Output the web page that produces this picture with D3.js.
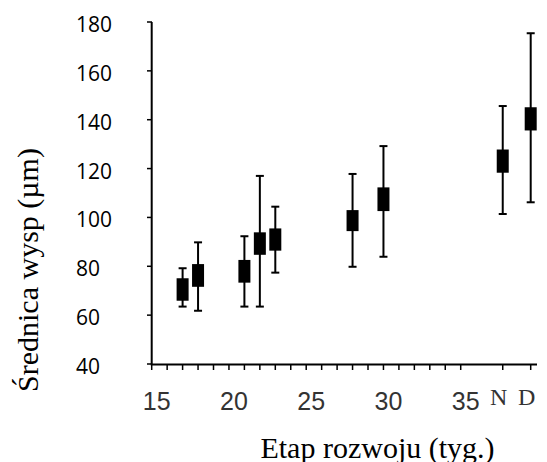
<!DOCTYPE html>
<html><head><meta charset="utf-8">
<script src="https://cdn.jsdelivr.net/npm/d3@7"></script>
<style>body{margin:0;background:#fff}svg{display:block}</style>
</head><body><svg id="c" width="547" height="462"></svg>
<script>
// Data
const categories   = ["17","18","21","22","23","28","30","N","D"];
const catPositions = [17, 18, 21, 22, 23, 28, 30, 37.72, 39.53];
const whiskerHigh  = [79.2, 89.8, 92.3, 117.0, 104.4, 117.8, 129.2, 145.6, 175.4];
const boxHigh      = [75.1, 80.9, 82.6, 93.9, 95.5, 103.0, 112.3, 127.8, 145.1];
const boxLow       = [65.9, 71.6, 73.3, 84.7, 86.4, 94.4, 102.6, 118.3, 135.6];
const whiskerLow   = [63.5, 61.8, 63.5, 63.5, 77.4, 79.8, 83.9, 101.4, 106.2];
const yTicks       = [40, 60, 80, 100, 120, 140, 160, 180];
const xMinorTicks  = d3.range(15, 36).concat([37.72, 39.53]);
const xTickLabels  = ["15","20","25","30","35","N","D"];
const xTickLabelPos= [15, 20, 25, 30, 35, 37.72, 39.53];

const svg = d3.select("#c");
const x = d3.scaleLinear().domain([15, 39.53]).range([151.7, 530.7]);
const y = d3.scaleLinear().domain([40, 180]).range([364, 22]);

// Y axis
svg.append("line").attr("x1", 151.7).attr("x2", 151.7).attr("y1", y(180)).attr("y2", y(40))
  .attr("stroke", "#000").attr("stroke-width", 2);
svg.selectAll(".yt").data(yTicks).enter().append("line")
  .attr("x1", 147).attr("x2", 152).attr("y1", d => y(d)).attr("y2", d => y(d))
  .attr("stroke", "#000").attr("stroke-width", 1.5);
svg.selectAll(".yl").data(yTicks).enter().append("text")
  .attr("x", 76).attr("y", d => y(d) + 2).attr("dominant-baseline", "central")
  .attr("font-family", "'Open Sans', sans-serif").attr("font-size", 21).attr("fill", "#000")
  .text(d => d);

// X axis
svg.append("line").attr("x1", 150.7).attr("x2", 537).attr("y1", 364.5).attr("y2", 364.5)
  .attr("stroke", "#000").attr("stroke-width", 2);
svg.selectAll(".xt").data(xMinorTicks).enter().append("line")
  .attr("x1", d => x(d)).attr("x2", d => x(d)).attr("y1", 364.5).attr("y2", 370)
  .attr("stroke", "#000").attr("stroke-width", 1.5);
svg.selectAll(".xl").data(xTickLabels).enter().append("text")
  .attr("x", (d, i) => x(xTickLabelPos[i]) + (i < 5 ? 5 : -4))
  .attr("y", (d, i) => i < 5 ? 410 : 405).attr("text-anchor", "middle")
  .attr("font-family", (d, i) => i < 5 ? "'Liberation Sans', Arial, sans-serif" : "'Liberation Serif', serif")
  .attr("font-size", (d, i) => i < 5 ? 25 : 24)
  .attr("fill", "#333")
  .text(d => d);

// Titles
svg.append("text").attr("x", 377.5).attr("y", 457.5).attr("text-anchor", "middle")
  .attr("font-family", "'Liberation Serif', 'Times New Roman', serif").attr("font-size", 30)
  .attr("fill", "#000").text("Etap rozwoju (tyg.)");
svg.append("text").attr("transform", "translate(38,270) rotate(-90)").attr("text-anchor", "middle")
  .attr("font-family", "'Liberation Serif', 'Times New Roman', serif").attr("font-size", 30)
  .attr("fill", "#000").text("Średnica wysp (µm)");

// Box/whisker marks
const g = svg.append("g");
categories.forEach((c, i) => {
  const cx = x(catPositions[i]);
  g.append("line").attr("x1", cx).attr("x2", cx).attr("y1", y(whiskerHigh[i])).attr("y2", y(whiskerLow[i]))
    .attr("stroke", "#000").attr("stroke-width", 2);
  [whiskerHigh[i], whiskerLow[i]].forEach(v => {
    g.append("line").attr("x1", cx - 4).attr("x2", cx + 4).attr("y1", y(v)).attr("y2", y(v))
      .attr("stroke", "#000").attr("stroke-width", 2);
  });
  g.append("rect").attr("x", cx - 6).attr("width", 12)
    .attr("y", y(boxHigh[i])).attr("height", y(boxLow[i]) - y(boxHigh[i]))
    .attr("fill", "#000");
});
</script></body></html>
